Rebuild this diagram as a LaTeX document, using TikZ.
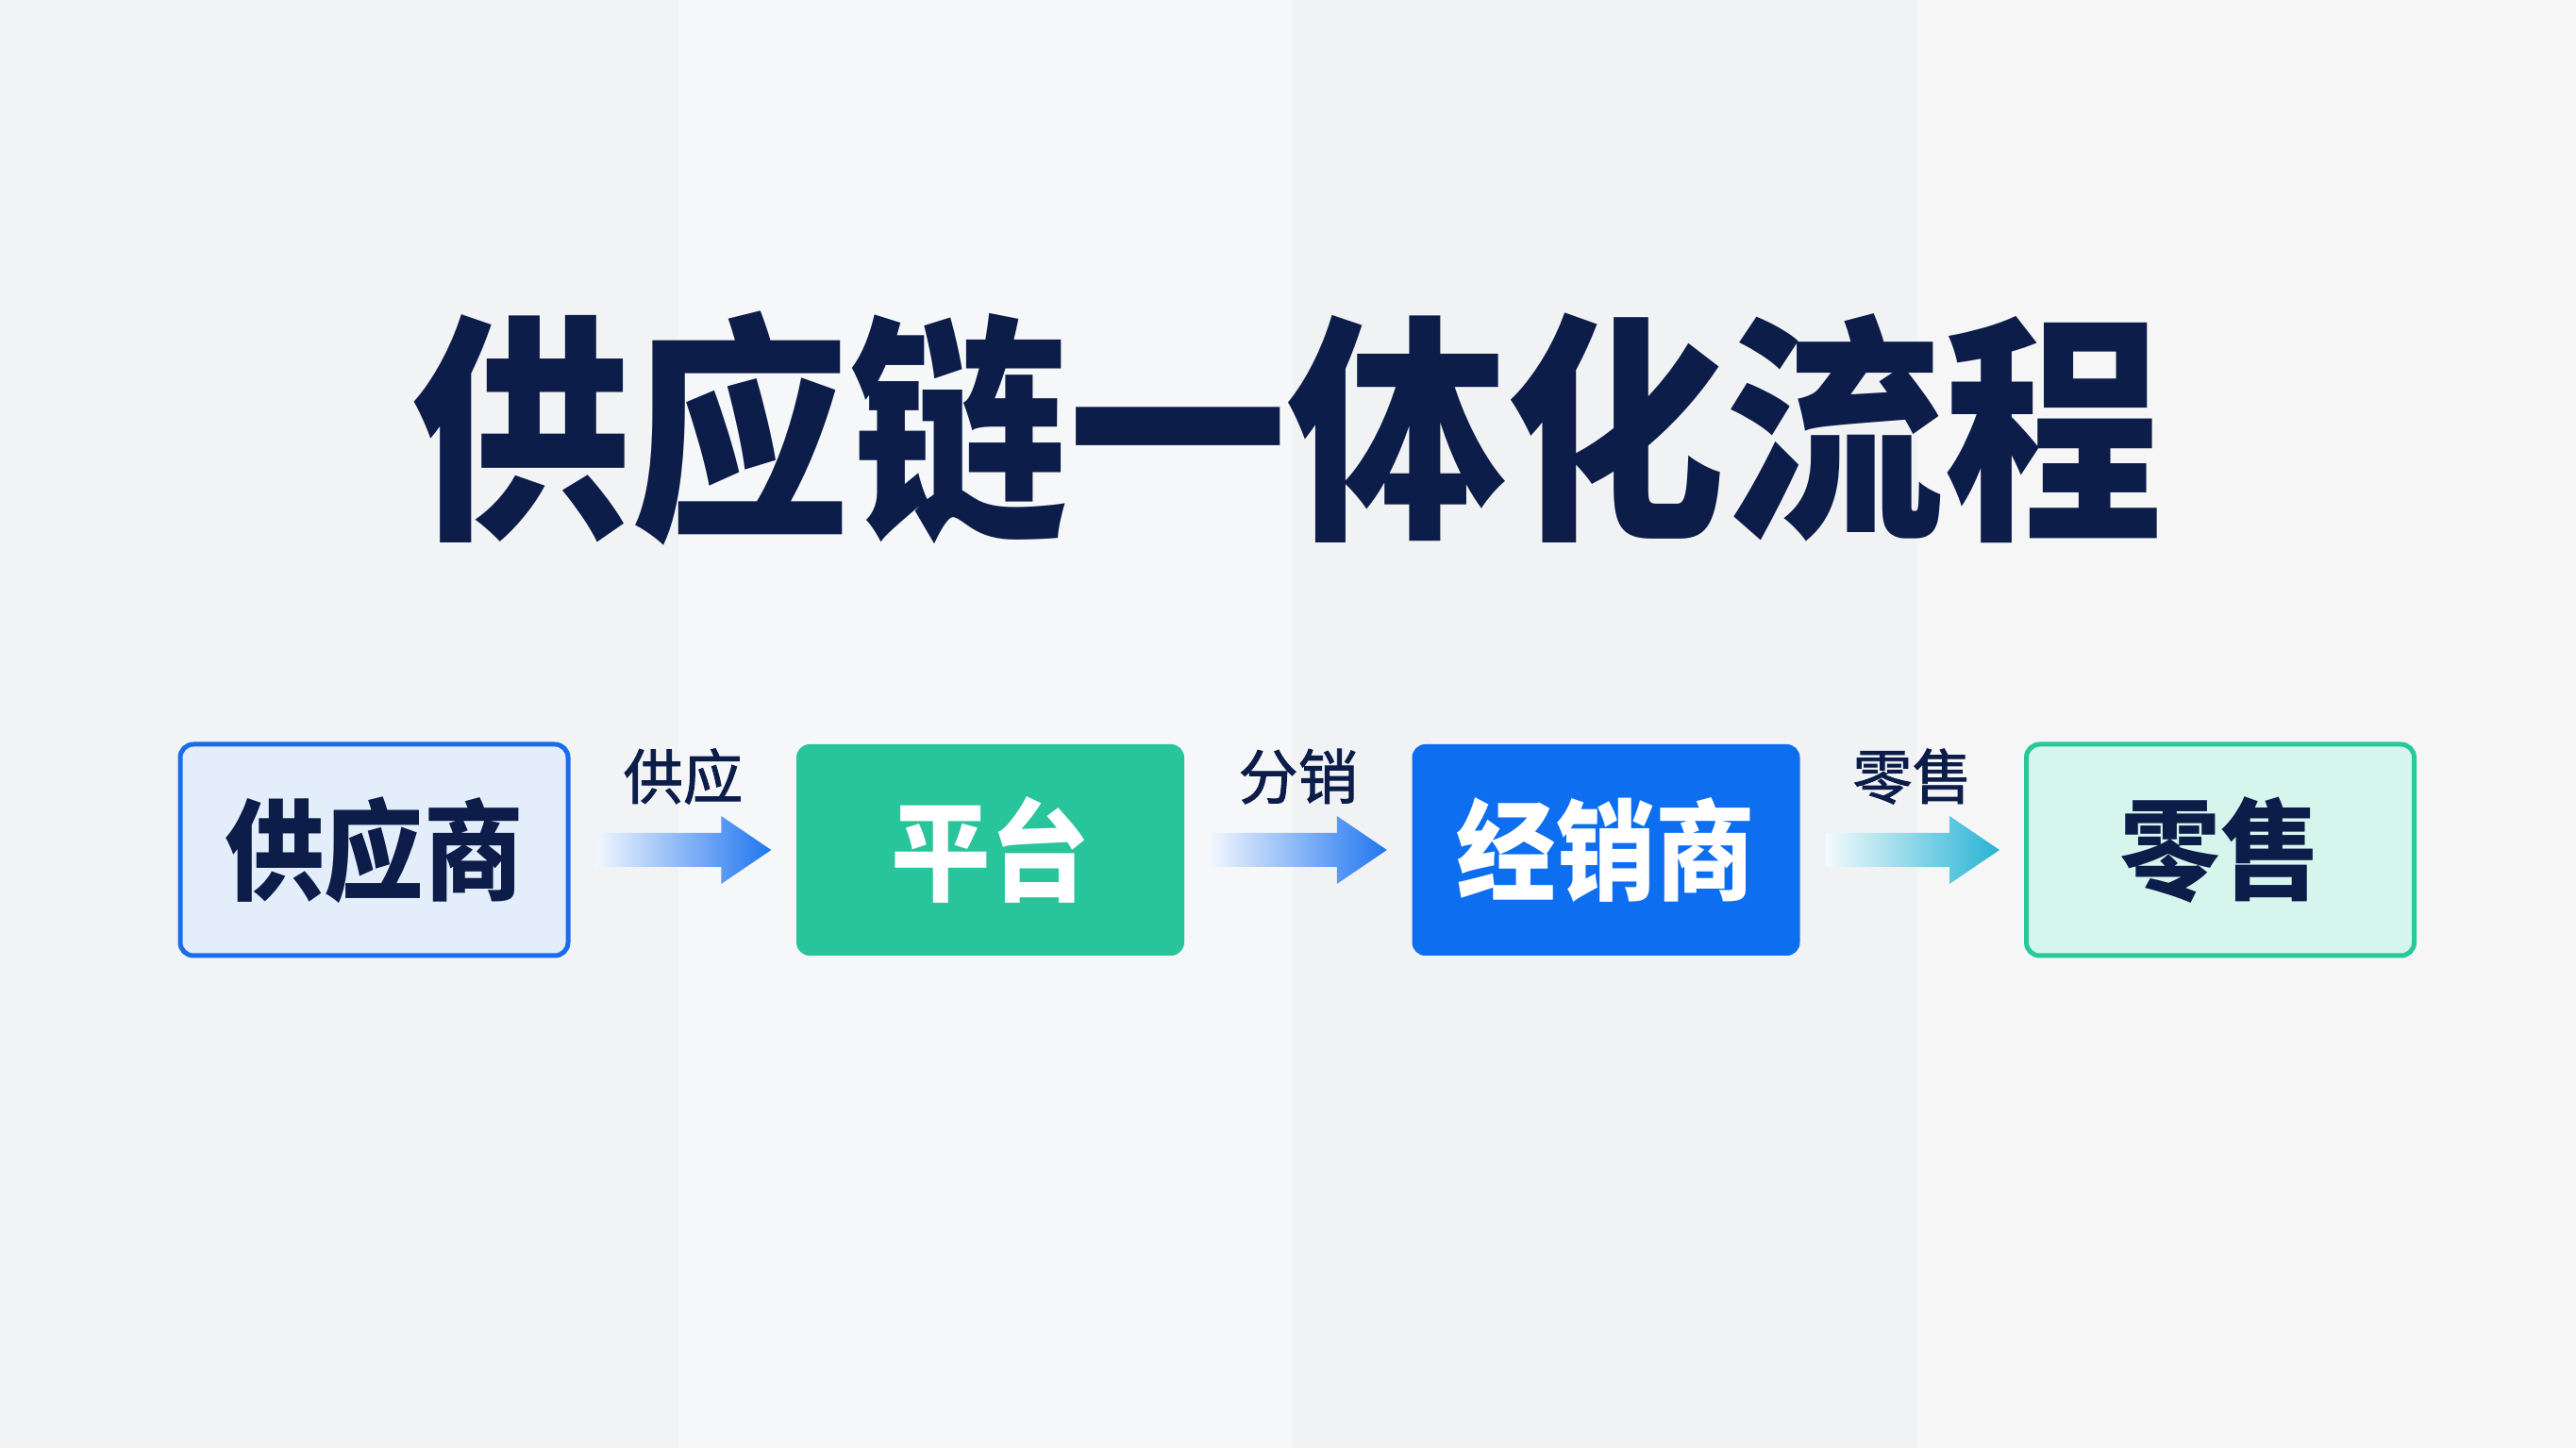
\documentclass[tikz,border=0pt]{standalone}
\usepackage{graphicx}
\usepackage{fontspec}
\newfontfamily\cjk{Noto Sans CJK SC}
\newfontfamily\cjklbl[FakeBold=1.4]{Noto Sans CJK SC}
\usetikzlibrary{calc}
\definecolor{navy}{HTML}{0C1D4A}
\definecolor{bandA}{HTML}{F2F3F4}
\definecolor{bandB}{HTML}{F6F7F9}
\definecolor{bandC}{HTML}{F1F2F4}
\definecolor{bandD}{HTML}{F6F6F7}
\definecolor{supfill}{HTML}{E4EEFB}
\definecolor{supline}{HTML}{1A6CEB}
\definecolor{platgreen}{HTML}{28C49B}
\definecolor{dealblue}{HTML}{0D6EF0}
\definecolor{retfill}{HTML}{D6F5EC}
\definecolor{retline}{HTML}{27C99A}
\definecolor{arrblue}{HTML}{1F75F0}
\definecolor{arrcyan}{HTML}{27B3D4}
% gradient arrow between two boxes
\newcommand\flowarrow[3]{%
  \shade[left color=#3!6!white,right color=#3]
    let \p1=($(#1.east)+(0.27,0)$), \p2=($(#2.west)-(0.26,0)$) in
    (\x1,\y1-0.18cm)--(\x2-0.53cm,\y1-0.18cm)--(\x2-0.53cm,\y1-0.36cm)--(\x2,\y1)
    --(\x2-0.53cm,\y1+0.36cm)--(\x2-0.53cm,\y1+0.18cm)--(\x1,\y1+0.18cm)--cycle;}
\begin{document}
\begin{tikzpicture}[
    box/.style={rounded corners=0.14cm,minimum width=4.11cm,minimum height=2.24cm,inner sep=0pt,
      font=\cjk\bfseries\fontsize{30}{30}\selectfont},
    flowlabel/.style={font=\cjklbl\fontsize{18}{18}\selectfont,text=navy}]
    \useasboundingbox(0,0)rectangle(27.3,15.35);
    \fill[bandA](0,0)rectangle(7.19,15.35);
    \fill[bandB](7.19,0)rectangle(13.70,15.35);
    \fill[bandC](13.70,0)rectangle(20.32,15.35);
    \fill[bandD](20.32,0)rectangle(27.3,15.35);
    \node[text=navy,font=\cjk\bfseries\fontsize{66}{66}\selectfont](title)at(13.645,10.81)
      {\scalebox{1}[1.1]{供应链一体化流程}};
    \node[box,draw=supline,line width=0.05cm,fill=supfill,text=navy](supplier)at(3.965,6.34)
      {\scalebox{1}[1.1]{供应商}};
    \node[box,fill=platgreen,text=white](platform)at(10.495,6.34){\scalebox{1}[1.1]{平台}};
    \node[box,fill=dealblue,text=white](dealer)at(17.02,6.34){\scalebox{1}[1.1]{经销商}};
    \node[box,draw=retline,line width=0.05cm,fill=retfill,text=navy](retail)at(23.53,6.34)
      {\scalebox{1}[1.1]{零售}};
    \flowarrow{supplier}{platform}{arrblue}
    \flowarrow{platform}{dealer}{arrblue}
    \flowarrow{dealer}{retail}{arrcyan}
    \node[flowlabel](supply)at($(supplier.east)!0.5!(platform.west)+(0,0.78)$){供应};
    \node[flowlabel](distrib)at($(platform.east)!0.5!(dealer.west)+(0,0.78)$){分销};
    \node[flowlabel](sell)at($(dealer.east)!0.5!(retail.west)+(0,0.78)$){零售};
\end{tikzpicture}
\end{document}
